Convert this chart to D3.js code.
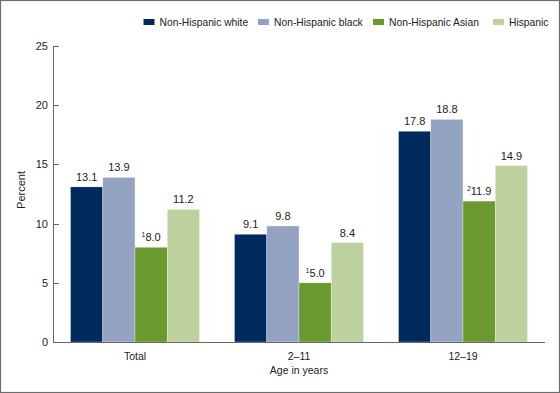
<!DOCTYPE html>
<html><head><meta charset="utf-8">
<script src="https://cdn.jsdelivr.net/npm/d3@7"></script>
<style>body{margin:0;background:#fff}svg{display:block;font-family:"Liberation Sans",Arial,sans-serif}</style>
</head><body>
<svg id="c" width="560" height="393"></svg>
<script>
const categories = ["Total", "2\u201311", "12\u201319"];
const seriesNames = ["Non-Hispanic white", "Non-Hispanic black", "Non-Hispanic Asian", "Hispanic"];
const seriesColors = ["#002A5C", "#95A3C3", "#6A9A2F", "#BDD19F"];
const white = [13.1, 9.1, 17.8];
const black = [13.9, 9.8, 18.8];
const asian = [8.0, 5.0, 11.9];
const hispanic = [11.2, 8.4, 14.9];
const asianNotes = ["1", "1", "2"];
const yTicks = [0, 5, 10, 15, 20, 25];

const series = [white, black, asian, hispanic];
const svg = d3.select("#c");
svg.append("rect").attr("x",0.5).attr("y",0.5).attr("width",559).attr("height",392)
  .attr("fill","none").attr("stroke","#6e6e6e").attr("stroke-width",1.2);

const x0 = d3.scaleBand().domain(categories).range([53,545]).paddingInner(0).paddingOuter(0);
const x1 = d3.scaleBand().domain(d3.range(4)).range([0,129]);
const y = d3.scaleLinear().domain([0,25]).range([342,46]);

// y axis
const ya = svg.append("g");
ya.append("line").attr("x1",53.5).attr("x2",53.5).attr("y1",y(25)).attr("y2",y(0)).attr("stroke","#666");
yTicks.forEach(t=>{
  ya.append("line").attr("x1",53.5).attr("x2",59).attr("y1",Math.round(y(t))+0.5).attr("y2",Math.round(y(t))+0.5).attr("stroke","#666");
  ya.append("text").attr("x",48).attr("y",y(t)+4).attr("text-anchor","end").attr("font-size",11).attr("fill","#222").text(t);
});
svg.append("text").attr("transform","translate(25,190) rotate(-90)").attr("text-anchor","middle")
  .attr("font-size",11).attr("fill","#222").text("Percent");

// bars
categories.forEach((c,ci)=>{
  const gx = x0(c) + (x0.bandwidth()-129)/2;
  series.forEach((s,si)=>{
    const v = s[ci];
    svg.append("rect").attr("x",gx+x1(si)).attr("y",y(v)).attr("width",x1.bandwidth())
      .attr("height",y(0)-y(v)).attr("fill",seriesColors[si])
      .attr("stroke","rgba(255,255,255,0.5)").attr("stroke-width",0.6);
    const t = svg.append("text").attr("x",gx+x1(si)+x1.bandwidth()/2).attr("y",y(v)-6)
      .attr("text-anchor","middle").attr("font-size",11).attr("fill","#222");
    if(si===2){
      t.append("tspan").attr("font-size",7).attr("dy",-4).text(asianNotes[ci]);
      t.append("tspan").attr("dy",4).text(v.toFixed(1));
    } else t.text(v.toFixed(1));
  });
  svg.append("text").attr("x",x0(c)+x0.bandwidth()/2).attr("y",360).attr("text-anchor","middle")
    .attr("font-size",10.5).attr("fill","#222").text(c);
});

// x axis
svg.append("line").attr("x1",53).attr("x2",545).attr("y1",342.5).attr("y2",342.5).attr("stroke","#666");
svg.append("text").attr("x",299).attr("y",374).attr("text-anchor","middle").attr("font-size",10.5).attr("fill","#222").text("Age in years");

// legend
const legX = [143.5, 258, 373, 493];
seriesNames.forEach((n,i)=>{
  svg.append("rect").attr("x",legX[i]).attr("y",19).attr("width",11).attr("height",6).attr("fill",seriesColors[i]);
  svg.append("text").attr("x",legX[i]+16).attr("y",25.5).attr("font-size",10.3).attr("fill","#222").text(n);
});
</script>
</body></html>
